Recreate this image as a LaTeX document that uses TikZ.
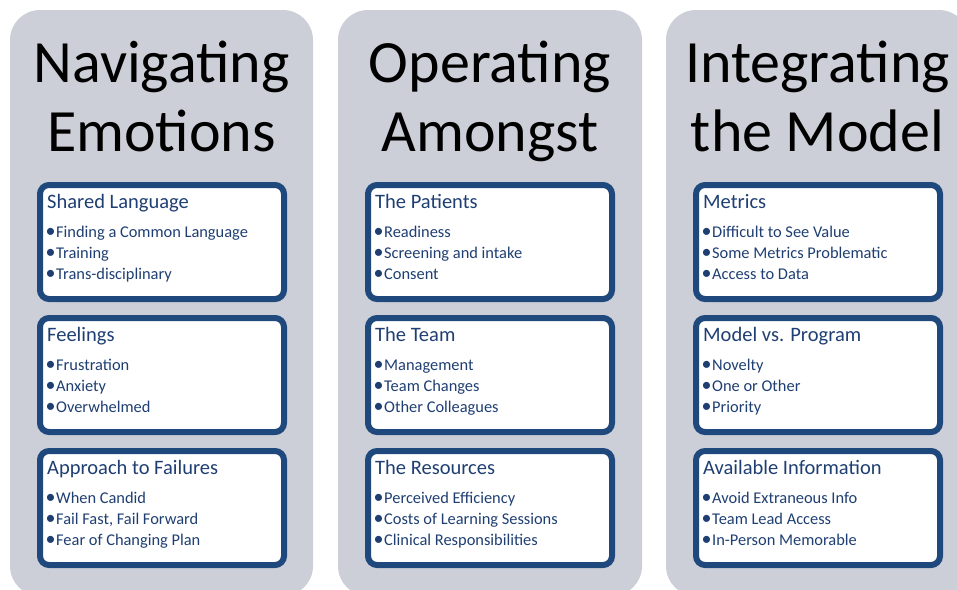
\documentclass[tikz,border=0pt]{standalone}
\usepackage{fontspec}
\setmainfont{Carlito}
\usepackage{tikz}
\usetikzlibrary{shadows}
\definecolor{panelGrey}{HTML}{CDCFD8}
\definecolor{frameBlue}{HTML}{1F497D}
\definecolor{textBlue}{HTML}{1F3F73}
\tikzset{
  panel/.style={fill=panelGrey, rounded corners=30pt},
  title/.style={font=\fontsize{60}{69}\selectfont, align=center, anchor=base, inner sep=0pt},
  topic/.style={draw=frameBlue, line width=6pt, fill=white, rounded corners=9pt,
    minimum width=244pt, minimum height=114pt, inner sep=0pt,
    drop shadow={shadow xshift=1pt, shadow yshift=-2.5pt, opacity=0.3, fill=black}},
  heading/.style={font=\fontsize{20.5}{24}\selectfont, text=textBlue, anchor=base west, inner sep=0pt},
  item/.style={font=\fontsize{16.4}{18}\selectfont, text=textBlue, anchor=base west, inner sep=0pt}
}
\newcommand{\dotmark}{\makebox[8pt][l]{\makebox[5pt][c]{\fontsize{20}{20}\selectfont\raisebox{-0.6pt}{\textbullet}}}}
% name, left, top, heading, three items
\newcommand{\topicbox}[7]{%
  \node[topic] (#1) at (#2+125, #3+60) {};
  \node[heading] (#1-head) at (#2+10, #3+26) {#4};
  \node[item] (#1-a) at (#2+11, #3+55) {\dotmark#5};
  \node[item] (#1-b) at (#2+11, #3+76) {\dotmark#6};
  \node[item] (#1-c) at (#2+11, #3+97) {\dotmark#7};
}

\begin{document}
\begin{tikzpicture}[x=1pt, y=-1pt]
  \useasboundingbox (0,0) rectangle (957,589);
  \clip (0,0) rectangle (957,589);

  \fill[panel] (10,10) rectangle (313,596);
  \fill[panel] (338,10) rectangle (642,596);
  \fill[panel] (666,10) rectangle (969,596);

  % anchor base sits on the second line
  \node[title] (emotions) at (161.5,151) {Navigating\\Emotions};
  \node[title] (amongst) at (490,151) {Operating\\Amongst};
  \node[title] (model) at (817.5,151) {Integrating\\the Model};

  \topicbox{language}{37}{182}{Shared Language}{Finding a Common Language}{Training}{Trans-disciplinary}
  \topicbox{feelings}{37}{315}{Feelings}{Frustration}{Anxiety}{Overwhelmed}
  \topicbox{failures}{37}{448}{Approach to Failures}{When Candid}{Fail Fast, Fail Forward}{Fear of Changing Plan}

  \topicbox{patients}{365}{182}{The Patients}{Readiness}{Screening and intake}{Consent}
  \topicbox{team}{365}{315}{The Team}{Management}{Team Changes}{Other Colleagues}
  \topicbox{resources}{365}{448}{The Resources}{Perceived Efficiency}{Costs of Learning Sessions}{Clinical Responsibilities}

  \topicbox{metrics}{693}{182}{Metrics}{Difficult to See Value}{Some Metrics Problematic}{Access to Data}
  \topicbox{program}{693}{315}{Model vs. Program}{Novelty}{One or Other}{Priority}
  \topicbox{information}{693}{448}{Available Information}{Avoid Extraneous Info}{Team Lead Access}{In-Person Memorable}
\end{tikzpicture}
\end{document}
